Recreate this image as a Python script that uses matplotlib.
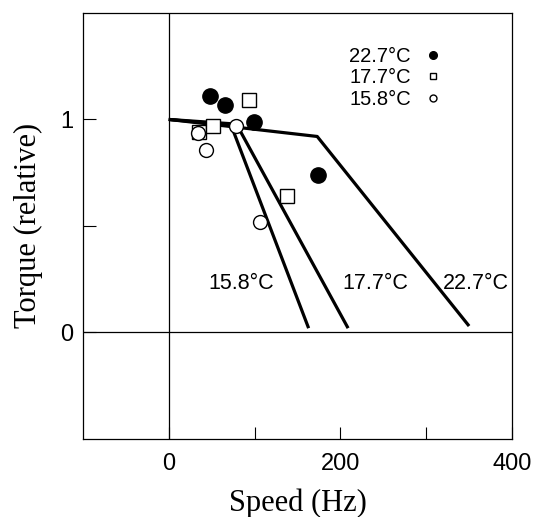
import numpy as np
import matplotlib.pyplot as plt

# model curves (speed in Hz, relative torque)
line_158_x = [0, 72, 163]
line_158_y = [1.0, 0.98, 0.02]
line_177_x = [0, 80, 209]
line_177_y = [1.0, 0.97, 0.02]
line_227_x = [0, 173, 350]
line_227_y = [1.0, 0.92, 0.03]

# measured points
pts_227_x = [48, 65, 99, 174]
pts_227_y = [1.11, 1.07, 0.99, 0.74]
pts_177_x = [35, 52, 94, 138]
pts_177_y = [0.94, 0.97, 1.09, 0.64]
pts_158_x = [34, 44, 78, 106]
pts_158_y = [0.935, 0.855, 0.97, 0.52]

labels = ["22.7\u00b0C", "17.7\u00b0C", "15.8\u00b0C"]
label_x = [358, 241, 84]
label_y = [0.23, 0.23, 0.23]

fig = plt.figure(figsize=(5.35, 5.17), dpi=100)
ax = fig.add_axes([0.155, 0.151, 0.802, 0.824])

ax.axhline(0, color='black', lw=0.9, zorder=1)
ax.axvline(0, color='black', lw=0.9, zorder=1)

for xs, ys in [(line_158_x, line_158_y), (line_177_x, line_177_y), (line_227_x, line_227_y)]:
    ax.plot(xs, ys, color='black', lw=2.3, solid_capstyle='butt', zorder=2)

ax.plot(pts_227_x, pts_227_y, 'o', ms=11, mfc='black', mec='black', ls='none',
        zorder=3, label=labels[0])
ax.plot(pts_177_x, pts_177_y, 's', ms=10, mfc='white', mec='black', mew=1.0,
        ls='none', zorder=3, label=labels[1])
ax.plot(pts_158_x, pts_158_y, 'o', ms=10, mfc='white', mec='black', mew=1.0,
        ls='none', zorder=4, label=labels[2])

for t, x, y in zip(labels, label_x, label_y):
    ax.text(x, y, t, ha='center', va='center', fontsize=15.5, family='Liberation Sans')

leg = ax.legend(loc='upper right', bbox_to_anchor=(0.877, 0.963), frameon=False,
                markerfirst=False, markerscale=0.5, handlelength=0.8,
                handletextpad=0.7, labelspacing=0.12,
                prop={'family': 'Liberation Sans', 'size': 14.5})

ax.set_xlim(-100, 400)
ax.set_ylim(-0.5, 1.5)
ax.set_xticks([0, 200, 400])
ax.set_xticks([100, 300], minor=True)
ax.set_yticks([0, 1])
ax.set_yticks([0.5], minor=True)
ax.tick_params(which='both', direction='in', length=9, width=0.8)
ax.tick_params(axis='x', which='major', pad=10)
ax.tick_params(axis='y', which='major', pad=7)
for lab in ax.get_xticklabels() + ax.get_yticklabels():
    lab.set_family('Liberation Sans')
    lab.set_fontsize(17)

for s in ax.spines.values():
    s.set_linewidth(0.9)

ax.set_xlabel('Speed (Hz)', family='Liberation Serif', fontsize=22, labelpad=10)
ax.set_ylabel('Torque (relative)', family='Liberation Serif', fontsize=22, labelpad=12)

fig.savefig('out.png', dpi=100)
